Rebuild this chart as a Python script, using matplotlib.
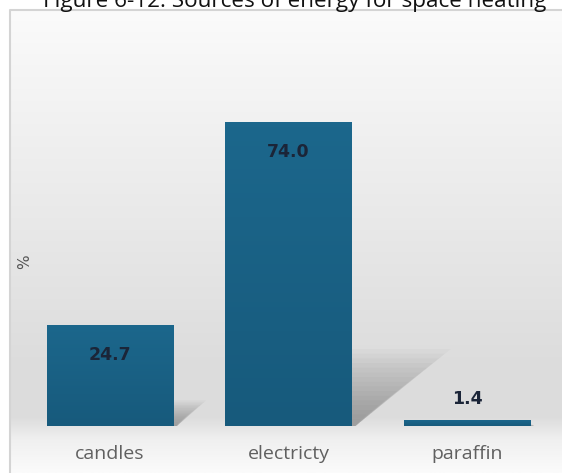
import matplotlib
matplotlib.use("Agg")
import matplotlib.pyplot as plt
import numpy as np
from matplotlib.patches import Polygon
from matplotlib.colors import LinearSegmentedColormap

# heating energy sources, share of households (%)
categories = ["candles", "electricty", "paraffin"]
shares = [24.7, 74.0, 1.4]

title = "Figure 6-12: Sources of energy for space heating"
ylabel = "%"

W, H = 562, 473
fig = plt.figure(figsize=(W / 100, H / 100), dpi=100)
fig.patch.set_facecolor("white")

# ---- chart panel background (grey vertical gradient) ----
bg = fig.add_axes([10 / W, 0, 1 - 10 / W, 463 / H], zorder=0)
bg.set_axis_off()
stops = [(0.0, "#fbfbfb"), (0.12, "#f6f6f6"), (0.45, "#e9e9e9"),
         (0.75, "#dddddd"), (0.88, "#dcdcdc"), (0.93, "#f0f0f0"), (1.0, "#fbfbfb")]
grad = LinearSegmentedColormap.from_list("panel", stops)
bg.imshow(np.linspace(0, 1, 256).reshape(-1, 1), aspect="auto", cmap=grad,
          extent=[0, 1, 0, 1], origin="upper")
bg.set_xlim(0, 1)
bg.set_ylim(0, 1)
bg.plot([0, 0, 1], [0, 1, 1], color="#d4d4d4", lw=1.5, transform=bg.transAxes,
        clip_on=False)

# ---- bars ----
ax = fig.add_axes([10 / W, 47 / H, 1 - 10 / W, 416 / H], zorder=1)
ax.patch.set_alpha(0)
x = np.arange(len(categories))
width = 0.71
ax.set_xlim(-100 / 178.5, 452 / 178.5)
ax.set_ylim(0, 416 / 4.108)

# soft floor shadows cast up and to the right of each bar
for xi, v in zip(x, shares):
    dx, dy = 0.0068 * v, 0.23 * v
    xl, xr = xi - width / 2, xi + width / 2
    for t in np.linspace(0.1, 1.1, 16):
        ax.add_patch(Polygon([(xl, 0), (xr + 0.02, 0), (xr + dx * t, dy * t),
                              (xl + dx * t, dy * t)], closed=True,
                             facecolor="#555555", edgecolor="none",
                             alpha=0.035, zorder=1))

bars = ax.bar(x, shares, width=width, color="#1a5e80", zorder=2)
bar_grad = LinearSegmentedColormap.from_list("bar", ["#1c678c", "#175a7c"])
for b in bars:
    im = ax.imshow(np.linspace(0, 1, 64).reshape(-1, 1), cmap=bar_grad,
                   aspect="auto", origin="upper", zorder=3,
                   extent=[b.get_x(), b.get_x() + b.get_width(), 0, b.get_height()])
    im.set_clip_path(b)

# value labels: inside the tall bars, above the thin one
for xi, v in zip(x, shares):
    offset = -30 if v > 10 else 21
    ax.annotate(f"{v:.1f}", (xi, v), xytext=(0, offset), textcoords="offset pixels",
                ha="center", va="center", fontsize=12.5, fontweight="bold",
                color="#1b2538", zorder=4)

ax.set_xticks(x)
ax.set_xticklabels(categories, fontsize=14, color="#606060", family="Open Sans")
ax.tick_params(axis="x", length=0, pad=14)
ax.set_yticks([])
for s in ax.spines.values():
    s.set_visible(False)

fig.text(25 / W, 1 - 262 / H, ylabel, rotation=90, ha="center", va="center",
         fontsize=11, color="#555555")

fig.text(295 / W, 1 - 6.7 / H, title, ha="center", va="baseline",
         fontsize=16.2, color="#111111", family="Open Sans")

fig.savefig("out.png", dpi=100)
